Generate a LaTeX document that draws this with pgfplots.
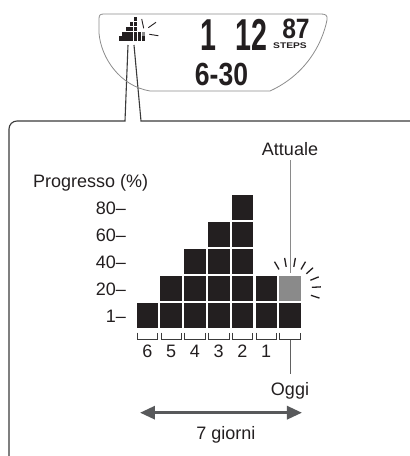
\documentclass[border=0pt]{standalone}
\usepackage{fontspec}
\setmainfont{Liberation Sans}
\usepackage{pgfplots}
\pgfplotsset{compat=1.18}
\usepackage{pgfplotstable}
\usetikzlibrary{arrows.meta}

\definecolor{ink}{HTML}{231F20}
\definecolor{lit}{HTML}{8A8A8A}
\definecolor{rule}{HTML}{3A3A3A}
\definecolor{arrowgray}{HTML}{58595B}
\definecolor{lcdgray}{HTML}{8C8C8C}

% one block of the progress chart
\pgfdeclareplotmark{blk}{\pgfpathrectangle{\pgfqpoint{-10.75pt}{-12.5pt}}{\pgfqpoint{21.5pt}{25pt}}\pgfusepathqfill}
\pgfdeclareplotmark{tinyblk}{\pgfpathrectangle{\pgfqpoint{-1.65pt}{-2.1pt}}{\pgfqpoint{3.3pt}{4.2pt}}\pgfusepathqfill}

% filled blocks: day column (0 = 6 days ago ... 6 = today), level
\pgfplotstableread{
day row
0 1
1 1
1 2
2 1
2 2
2 3
3 1
3 2
3 3
3 4
4 1
4 2
4 3
4 4
4 5
5 1
5 2
6 1
}\done
\pgfplotstableread{
day row
6 2
}\current

\newcommand\lbl{\fontsize{18}{21}\selectfont}

\begin{document}
\begin{tikzpicture}
\path[use as bounding box] (0,0) rectangle (410pt,456pt);
\clip (0,0) rectangle (410pt,456pt);

% callout frame
\draw[rule, line width=1.1pt] (9pt,-2pt) -- (9pt,327pt) arc[start angle=180, end angle=90, radius=8pt]
  -- (125pt,335pt) -- (128pt,411pt);
\draw[rule, line width=1.1pt] (134pt,411pt) -- (141pt,335pt) -- (412pt,335pt);

% display outline
\draw[lcdgray, line width=0.8pt] (150pt,365pt) -- (270pt,365pt)
  .. controls (305pt,381pt) and (322pt,411pt) .. (327pt,436pt)
  .. controls (328pt,441pt) and (325pt,442pt) .. (321pt,442pt)
  -- (104pt,442pt) .. controls (100pt,442pt) and (99pt,441pt) .. (99pt,437pt)
  -- (99pt,423pt) .. controls (101pt,398pt) and (120pt,370pt) .. (150pt,365pt) -- cycle;

% display readout
\node[anchor=base, inner sep=0pt, text=ink, font=\fontsize{44.7}{46}\selectfont\bfseries, xscale=0.64] at (208.5pt,405pt) {1};
\node[anchor=base, inner sep=0pt, text=ink, font=\fontsize{44.7}{46}\selectfont\bfseries, xscale=0.64] at (251.5pt,405pt) {12};
\node[anchor=base, inner sep=0pt, text=ink, font=\fontsize{28}{29}\selectfont\bfseries, xscale=0.88] at (296pt,417.5pt) {87};
\node[anchor=base, inner sep=0pt, text=ink, font=\fontsize{8.2}{9}\selectfont\bfseries, xscale=1.25] at (290pt,407.5pt) {STEPS};
\node[anchor=base, inner sep=0pt, text=ink, font=\fontsize{32}{33}\selectfont\bfseries, xscale=0.83] at (221.5pt,370pt) {6-30};
\draw[ink, line width=0.9pt] (141.7pt,437pt) -- (143.7pt,427.7pt);
\draw[ink, line width=0.9pt] (148.3pt,428.3pt) -- (156pt,433.7pt);
\draw[ink, line width=0.9pt] (149.3pt,421.7pt) -- (158.3pt,420.3pt);

% small icon on the display
\begin{axis}[
  at={(118.27pt,414.97pt)}, anchor=south west,
  x=3.86pt, y=4.86pt,
  xmin=-0.5, xmax=6.5, ymin=0.5, ymax=5.5,
  hide axis, clip=false,
]
\addplot[only marks, mark=tinyblk, color=ink] table[x=day, y=row] {\done};
\addplot[only marks, mark=tinyblk, color=lit] table[x=day, y=row] {\current};
\end{axis}

% main chart
\begin{axis}[
  at={(135.625pt,116.5pt)}, anchor=south west,
  x=23.75pt, y=27pt,
  xmin=-0.5, xmax=6.5, ymin=0.111, ymax=5.6,
  axis line style={draw=none}, major tick length=0pt,
  clip=false,
  xtick={0,...,5}, xticklabels={6,5,4,3,2,1},
  ytick={1,...,5}, yticklabels={1--,20--,40--,60--,80--},
  ticklabel style={font=\lbl, text=ink, inner sep=0pt},
  xticklabel style={anchor=north, yshift=-5.5pt},
  yticklabel style={anchor=east, xshift=-9.5pt, yshift=-1pt},
]
\addplot[only marks, mark=blk, color=ink] table[x=day, y=row] {\done};
\addplot[only marks, mark=blk, color=lit] table[x=day, y=row] {\current};

\pgfplotsinvokeforeach{0,...,6}{
  \draw[rule, line width=0.9pt] (axis cs:#1-0.43,0.363) |- (axis cs:#1,0.111) -| (axis cs:#1+0.43,0.363);
}
\pgfplotsinvokeforeach{120,100,80,60,42,22,3,-18}{
  \draw[ink, line width=1.3pt] ([shift={(#1:22pt)}]axis cs:6,2) -- ([shift={(#1:31pt)}]axis cs:6,2);
}
\draw[lit, line width=1pt] (axis cs:6,6.759) -- (axis cs:6,2.574);
\draw[rule!80!white, line width=0.9pt] (axis cs:6,0.111) -- (axis cs:6,-1.167);

\node[anchor=base west, font=\lbl, text=ink, inner sep=0pt] at (axis cs:-4.821,5.748) {Progresso (\%)};
\node[anchor=base, font=\lbl, text=ink, inner sep=0pt] at (axis cs:6,6.944) {Attuale};
\node[anchor=base, font=\lbl, text=ink, inner sep=0pt] at (axis cs:6,-1.981) {Oggi};
\draw[arrowgray, line width=3pt, {Triangle[length=15pt,width=13pt]}-{Triangle[length=15pt,width=13pt]}]
  (axis cs:-0.316,-2.6) -- (axis cs:6.505,-2.6);
\node[anchor=base, font=\lbl, text=ink, inner sep=0pt] at (axis cs:3.305,-3.611) {7 giorni};
\end{axis}
\end{tikzpicture}
\end{document}
